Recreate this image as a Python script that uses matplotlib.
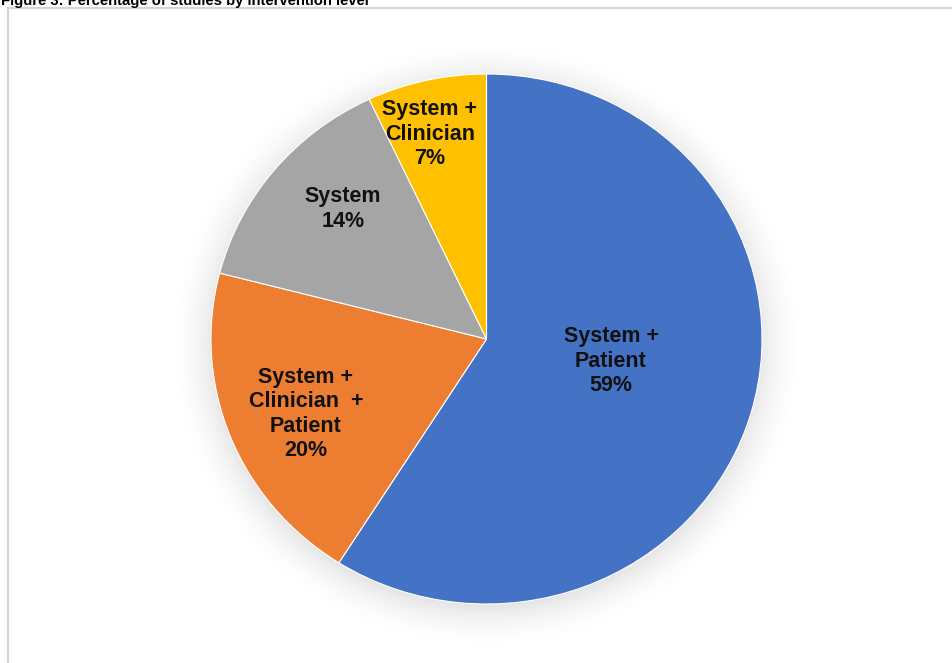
import numpy as np
import matplotlib
matplotlib.use("Agg")
import matplotlib.pyplot as plt
from matplotlib.lines import Line2D

# Data
categories = ["System +\nPatient", "System +\nClinician  +\nPatient", "System", "System +\nClinician"]
shares = [59, 20, 14, 7]
colors = ["#4472C4", "#ED7D31", "#A5A5A5", "#FFC000"]
title = "Figure 3: Percentage of studies by intervention level"

# label centres in pixels (x, y from top)
label_px = [(611, 361), (306, 414), (343, 209), (430, 134)]

W, H = 952, 663
fig = plt.figure(figsize=(W / 100, H / 100), dpi=100)
fig.patch.set_facecolor("white")
plt.rcParams['font.family'] = ['Liberation Sans', 'DejaVu Sans']

#Pie centre and radii (px), pie is slightly wider than tall
cx, cy = 486.5, 339
rx, ry = 275.5, 265

ax = fig.add_axes([0, 0, 1, 1])
ax.pie(shares, colors=colors, startangle=90, counterclock=False,
       wedgeprops=dict(edgecolor="white", linewidth=0.8), radius=1.0)
ax.set_aspect('auto')
ax.set_xlim(-cx / rx, (W - cx) / rx)
ax.set_ylim((cy - H) / ry, cy / ry)
ax.axis('off')

#Soft shadow behind the pie
xs = np.linspace(-cx / rx, (W - cx) / rx, 500)
ys = np.linspace((cy - H) / ry, cy / ry, 400)
X, Y = np.meshgrid(xs, ys)
R = np.sqrt(X ** 2 + (Y + 0.02) ** 2)
a = np.clip(1 - (R - 0.98) / 0.18, 0, 1) ** 2 * 0.17
img = np.zeros((len(ys), len(xs), 4))
img[..., :3] = 0.35
img[..., 3] = a
ax.imshow(img, extent=(xs[0], xs[-1], ys[0], ys[-1]), origin='lower',
          aspect='auto', zorder=0, interpolation='bilinear')
for w in ax.patches:
    w.set_zorder(2)

#Slice labels
for cat, val, (px, py) in zip(categories, shares, label_px):
    ax.text((px - cx) / rx, (cy - py) / ry, f"{cat}\n{val}%", ha='center', va='center',
            fontsize=15.5, fontweight='bold', color='#111111', linespacing=1.22, zorder=3)

#Frame of the chart area
fig.add_artist(Line2D([8 / W, 1], [1 - 8 / H, 1 - 8 / H], color='#D4D4D4', lw=1.5))
fig.add_artist(Line2D([8 / W, 8 / W], [0, 1 - 8 / H], color='#D4D4D4', lw=1.5))

#Title, clipped at the top edge like the source
fig.text(1 / W, 1 - 5.5 / H, title, ha='left', va='baseline', fontsize=10.7,
         fontweight='bold', color='#000000')

fig.savefig("out.png", dpi=100)
